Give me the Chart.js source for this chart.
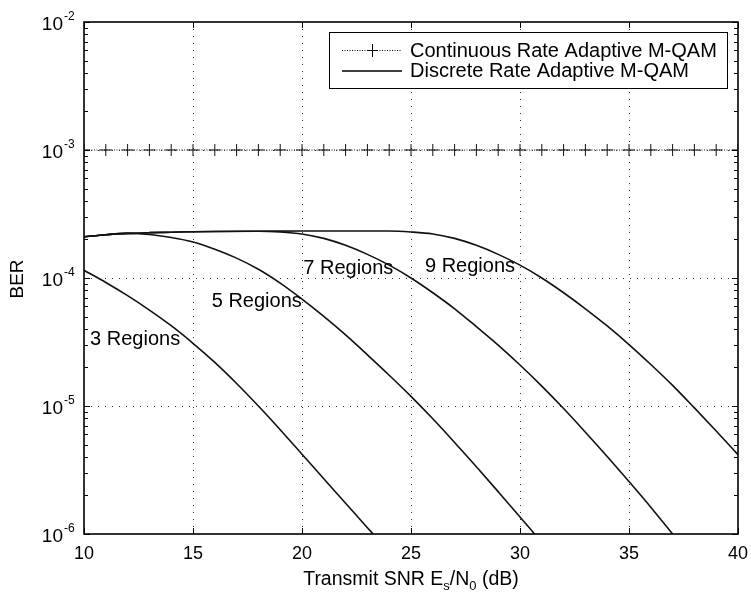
<!DOCTYPE html>
<html>
<head>
<meta charset="utf-8">
<script src="https://cdn.jsdelivr.net/npm/chart.js@4.4.1/dist/chart.umd.min.js"></script>
<style>
    html, body { margin: 0; padding: 0; background: #fff; }
    #wrap { width: 751px; height: 599px; }
</style>
</head>
<body>
<div id="wrap"><canvas id="ber_chart" width="751" height="599"></canvas></div>
<script>
// continuous rate curve (flat at 1e-3, marker every dB)
var snrContinuous = [10, 11, 12, 13, 14, 15, 16, 17, 18, 19, 20, 21, 22, 23, 24, 25,
    26, 27, 28, 29, 30, 31, 32, 33, 34, 35, 36, 37, 38, 39, 40];
var berContinuous = [1e-3, 1e-3, 1e-3, 1e-3, 1e-3, 1e-3, 1e-3, 1e-3, 1e-3, 1e-3, 1e-3,
    1e-3, 1e-3, 1e-3, 1e-3, 1e-3, 1e-3, 1e-3, 1e-3, 1e-3, 1e-3, 1e-3, 1e-3, 1e-3, 1e-3,
    1e-3, 1e-3, 1e-3, 1e-3, 1e-3, 1e-3];

// discrete rate curves
var snr3 = [10, 11, 12, 13, 14, 15, 16, 17, 18, 19, 20, 21, 22, 23, 23.26];
var ber3 = [1.15e-4, 9.23e-5, 7.28e-5, 5.62e-5, 4.24e-5, 3.09e-5, 2.19e-5, 1.5e-5, 1.0e-5,
    6.53e-6, 4.2e-6, 2.7e-6, 1.74e-6, 1.12e-6, 1e-6];

var snr5 = [10, 11, 12, 13, 14, 15, 16, 17, 18, 19, 20, 21, 22, 23, 24, 25, 26, 27, 28, 29,
    30, 30.67];
var ber5 = [2.1e-4, 2.18e-4, 2.23e-4, 2.19e-4, 2.07e-4, 1.91e-4, 1.68e-4, 1.43e-4, 1.17e-4,
    9.12e-5, 6.84e-5, 5.01e-5, 3.59e-5, 2.51e-5, 1.74e-5, 1.19e-5, 7.94e-6, 5.19e-6,
    3.35e-6, 2.14e-6, 1.36e-6, 1e-6];

var snr7 = [10, 11, 12, 13, 14, 15, 16, 18, 19, 20, 21, 22, 23, 24, 25, 26, 27, 28, 29, 30,
    31, 32, 33, 34, 35, 36, 37];
var ber7 = [2.1e-4, 2.18e-4, 2.23e-4, 2.26e-4, 2.28e-4, 2.3e-4, 2.31e-4, 2.32e-4, 2.29e-4,
    2.21e-4, 2.04e-4, 1.8e-4, 1.53e-4, 1.26e-4, 1.0e-4, 7.67e-5, 5.75e-5, 4.17e-5, 2.99e-5,
    2.09e-5, 1.43e-5, 9.55e-6, 6.24e-6, 4.03e-6, 2.57e-6, 1.62e-6, 1e-6];

var snr9 = [10, 11, 12, 13, 14, 15, 16, 18, 20, 22, 24, 25, 26, 27, 28, 29, 30, 31, 32, 33,
    34, 35, 36, 37, 38, 39, 40];
var ber9 = [2.1e-4, 2.18e-4, 2.23e-4, 2.26e-4, 2.28e-4, 2.3e-4, 2.31e-4, 2.32e-4, 2.33e-4,
    2.33e-4, 2.33e-4, 2.29e-4, 2.21e-4, 2.04e-4, 1.8e-4, 1.53e-4, 1.26e-4, 1.0e-4, 7.67e-5,
    5.75e-5, 4.22e-5, 3.02e-5, 2.11e-5, 1.45e-5, 9.66e-6, 6.38e-6, 4.17e-6];

var xTickValues = [10, 15, 20, 25, 30, 35, 40];
var xTickLabels = ['10', '15', '20', '25', '30', '35', '40'];
var yTickValues = [1e-6, 1e-5, 1e-4, 1e-3, 1e-2];
var yTickExponents = ['-6', '-5', '-4', '-3', '-2'];

var legendLabels = ['Continuous Rate Adaptive M-QAM', 'Discrete Rate Adaptive M-QAM'];
var regionNames = ['3 Regions', '5 Regions', '7 Regions', '9 Regions'];
// label anchors (left edge, baseline) in data units
var regionAnchorX = [10.28, 15.86, 20.06, 25.64];
var regionAnchorY = [3.0e-5, 5.9e-5, 1.07e-4, 1.12e-4];

var FONT = '"Liberation Sans", Arial, Helvetica, sans-serif';

function toPoints(xs, ys) {
    var pts = [];
    for (var i = 0; i < xs.length; i++) {
        pts.push({x: xs[i], y: ys[i]});
    }
    return pts;
}

function discreteSet(xs, ys) {
    return {
        label: legendLabels[1],
        data: toPoints(xs, ys),
        borderColor: '#111',
        borderWidth: 1.6,
        pointRadius: 0,
        cubicInterpolationMode: 'monotone'
    };
}

function strokeLine(ctx, x1, y1, x2, y2) {
    ctx.beginPath();
    ctx.moveTo(x1, y1);
    ctx.lineTo(x2, y2);
    ctx.stroke();
}

var frameLayer = {
    id: 'frameLayer',
    beforeDatasetsDraw: function (chart) {
        var ctx = chart.ctx, a = chart.chartArea;
        var xs = chart.scales.x, ys = chart.scales.y;
        ctx.save();
        ctx.strokeStyle = '#333';
        ctx.lineWidth = 1;
        ctx.setLineDash([1, 6]);
        xTickValues.forEach(function (v) {
            if (v <= xs.min || v >= xs.max) return;
            var px = Math.round(xs.getPixelForValue(v)) + 0.5;
            strokeLine(ctx, px, a.top, px, a.bottom);
        });
        yTickValues.forEach(function (v) {
            if (v <= ys.min || v >= ys.max) return;
            var py = Math.round(ys.getPixelForValue(v)) + 0.5;
            strokeLine(ctx, a.left, py, a.right, py);
        });
        ctx.restore();
    },
    afterDatasetsDraw: function (chart) {
        var ctx = chart.ctx, a = chart.chartArea;
        var xs = chart.scales.x, ys = chart.scales.y;
        ctx.save();
        ctx.strokeStyle = '#000';
        ctx.fillStyle = '#000';

        // inward ticks
        ctx.lineWidth = 1;
        xTickValues.forEach(function (v) {
            var px = Math.round(xs.getPixelForValue(v)) + 0.5;
            strokeLine(ctx, px, a.bottom, px, a.bottom - 6);
            strokeLine(ctx, px, a.top, px, a.top + 6);
        });
        for (var d = 0; d < yTickValues.length; d++) {
            var base = yTickValues[d];
            var py = Math.round(ys.getPixelForValue(base)) + 0.5;
            strokeLine(ctx, a.left, py, a.left + 6, py);
            strokeLine(ctx, a.right, py, a.right - 6, py);
            if (d === yTickValues.length - 1) break;
            for (var m = 2; m <= 9; m++) {
                var pm = Math.round(ys.getPixelForValue(base * m)) + 0.5;
                strokeLine(ctx, a.left, pm, a.left + 4, pm);
                strokeLine(ctx, a.right, pm, a.right - 4, pm);
            }
        }

        // box
        ctx.lineWidth = 1.6;
        ctx.strokeRect(a.left, a.top, a.right - a.left, a.bottom - a.top);

        // x tick labels
        ctx.font = '18px ' + FONT;
        ctx.textAlign = 'center';
        ctx.textBaseline = 'alphabetic';
        xTickValues.forEach(function (v, i) {
            ctx.fillText(xTickLabels[i], xs.getPixelForValue(v), a.bottom + 25);
        });

        // y tick labels, 10 with superscript exponent
        yTickValues.forEach(function (v, i) {
            var py = ys.getPixelForValue(v);
            ctx.font = '19px ' + FONT;
            ctx.textAlign = 'right';
            ctx.fillText('10', a.left - 21, py + 8);
            ctx.font = '12px ' + FONT;
            ctx.textAlign = 'left';
            ctx.fillText(yTickExponents[i], a.left - 20, py - 2);
        });

        // y title
        ctx.save();
        ctx.translate(18, (a.top + a.bottom) / 2 + 1);
        ctx.rotate(-Math.PI / 2);
        ctx.font = '19px ' + FONT;
        ctx.textAlign = 'center';
        ctx.textBaseline = 'middle';
        ctx.fillText('BER', 0, 0);
        ctx.restore();

        // x title with subscripts
        var parts = [
            {t: 'Transmit SNR E', sub: false},
            {t: 's', sub: true},
            {t: '/N', sub: false},
            {t: '0', sub: true},
            {t: ' (dB)', sub: false}
        ];
        var total = 0;
        parts.forEach(function (p) {
            ctx.font = (p.sub ? '13px ' : '19.5px ') + FONT;
            p.w = ctx.measureText(p.t).width;
            total += p.w;
        });
        var tx = (a.left + a.right) / 2 - total / 2;
        var ty = 585;
        ctx.textAlign = 'left';
        parts.forEach(function (p) {
            ctx.font = (p.sub ? '13px ' : '19.5px ') + FONT;
            ctx.fillText(p.t, tx, p.sub ? ty + 5 : ty);
            tx += p.w;
        });

        // region labels
        ctx.font = '20px ' + FONT;
        ctx.textAlign = 'left';
        regionNames.forEach(function (name, i) {
            ctx.fillText(name, xs.getPixelForValue(regionAnchorX[i]), ys.getPixelForValue(regionAnchorY[i]));
        });

        // legend box
        var lx = 329.5, ly = 32.5, lw = 398, lh = 56;
        ctx.fillStyle = '#fff';
        ctx.fillRect(lx, ly, lw, lh);
        ctx.lineWidth = 1;
        ctx.strokeStyle = '#000';
        ctx.strokeRect(lx, ly, lw, lh);
        ctx.fillStyle = '#000';
        // row 1: dotted line with + marker
        ctx.save();
        ctx.setLineDash([1, 1.5]);
        strokeLine(ctx, 342, 50.5, 402, 50.5);
        ctx.restore();
        strokeLine(ctx, 372.5, 44, 372.5, 57);
        strokeLine(ctx, 367, 50.5, 378, 50.5);
        // row 2: solid line
        ctx.lineWidth = 1.6;
        strokeLine(ctx, 342, 71, 402, 71);
        ctx.font = '20px ' + FONT;
        ctx.textBaseline = 'middle';
        ctx.fillText(legendLabels[0], 410, 51);
        ctx.fillText(legendLabels[1], 410, 71);
        ctx.restore();
    }
};

var chart = new Chart('ber_chart', {
    type: 'line',
    data: {
        datasets: [
            {
                label: legendLabels[0],
                data: toPoints(snrContinuous, berContinuous),
                borderColor: '#222',
                borderWidth: 1,
                borderDash: [1, 1.5],
                pointStyle: 'cross',
                pointRadius: 6,
                pointBorderColor: '#111',
                pointBorderWidth: 1
            },
            discreteSet(snr3, ber3),
            discreteSet(snr5, ber5),
            discreteSet(snr7, ber7),
            discreteSet(snr9, ber9)
        ]
    },
    options: {
        responsive: false,
        animation: false,
        layout: {padding: {left: 84, right: 13, top: 22, bottom: 65}},
        plugins: {
            legend: {display: false},
            tooltip: {enabled: false}
        },
        scales: {
            x: {type: 'linear', min: 10, max: 40, display: false},
            y: {type: 'logarithmic', min: 1e-6, max: 1e-2, display: false}
        }
    },
    plugins: [frameLayer]
});
</script>
</body>
</html>
